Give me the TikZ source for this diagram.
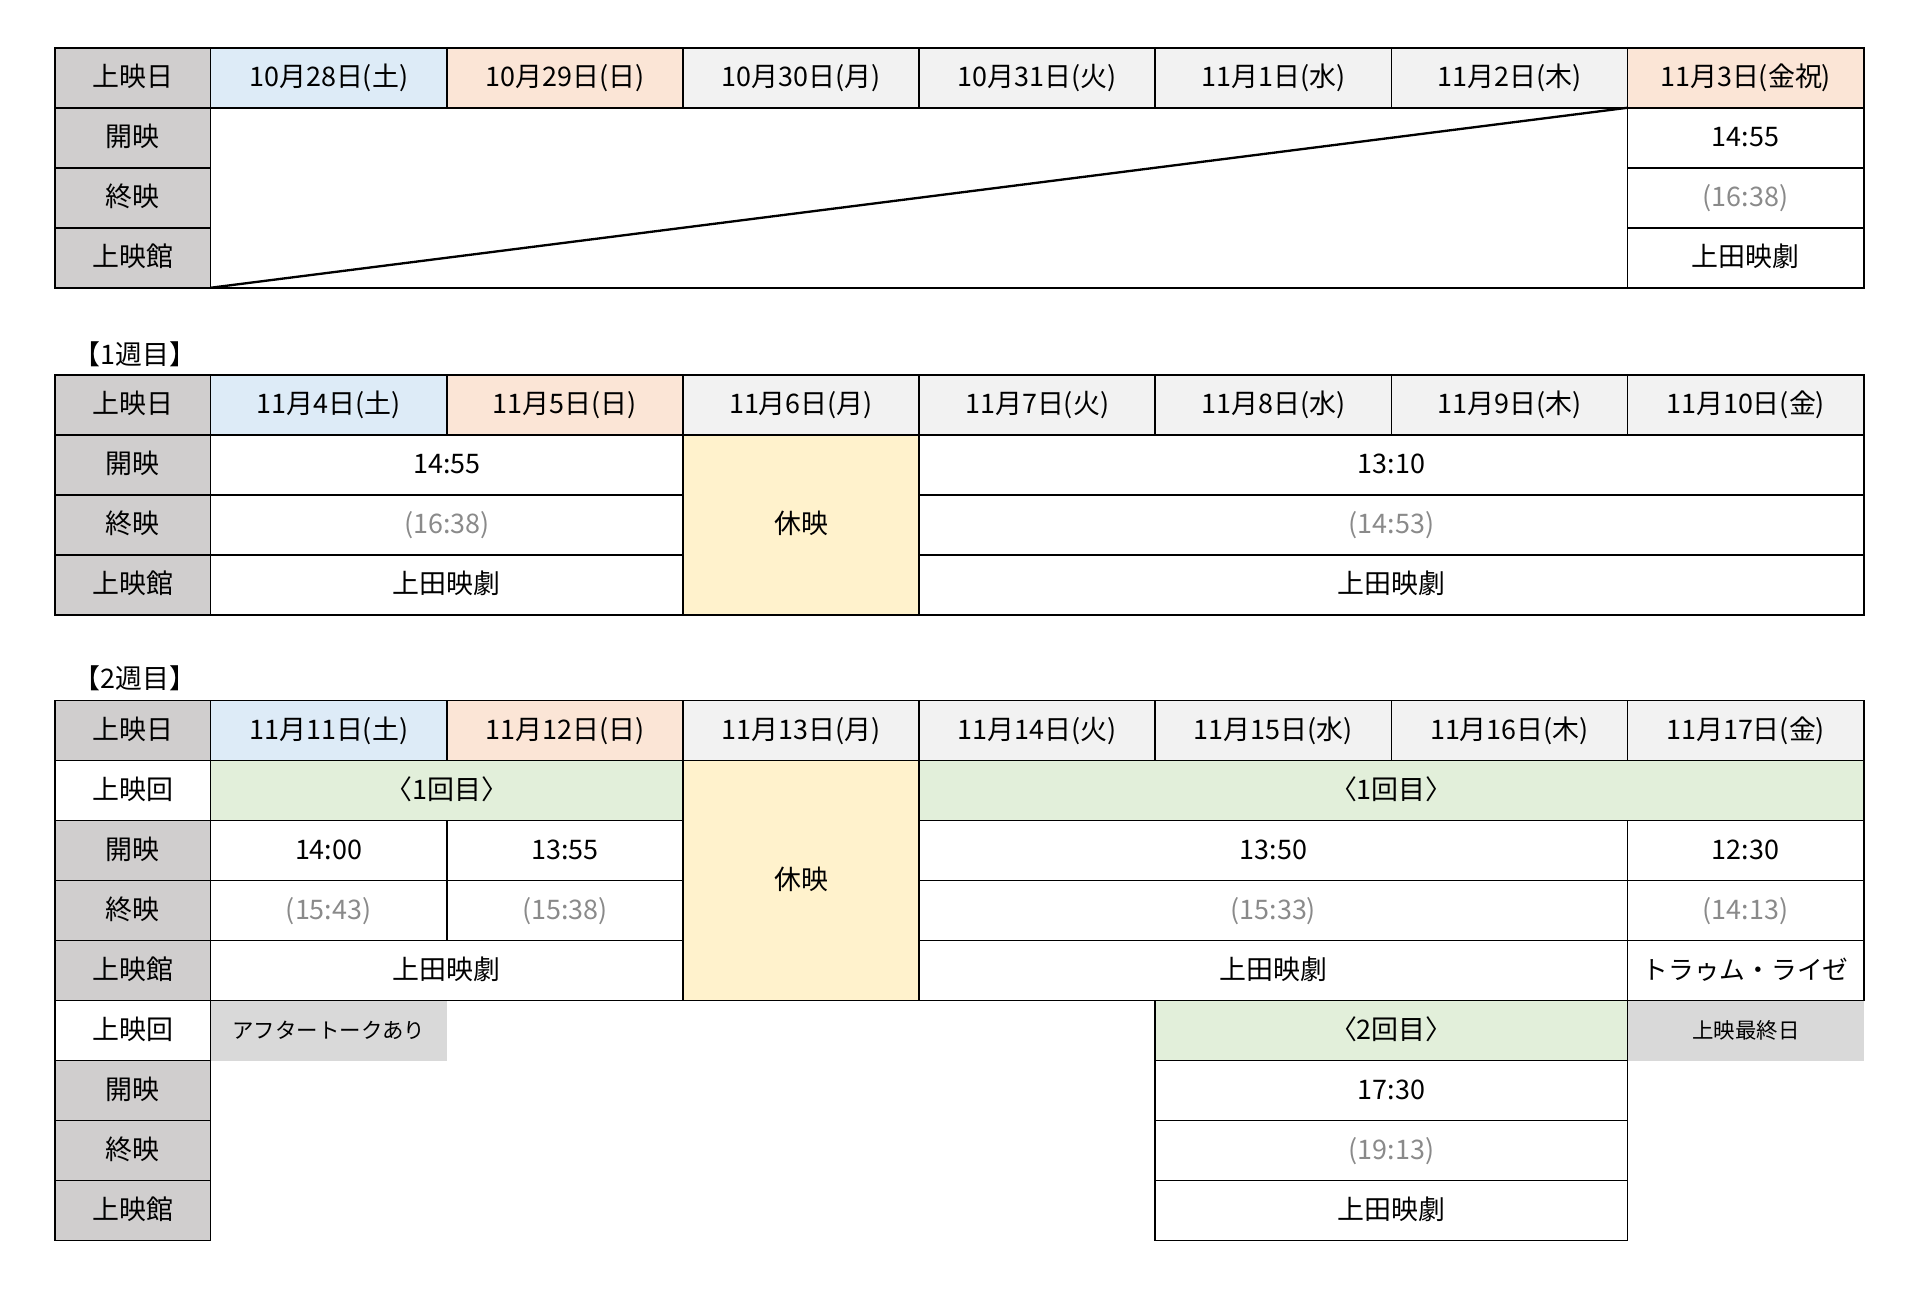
\documentclass[tikz,border=0pt]{standalone}
\usepackage{fontspec}
\setmainfont{Noto Sans CJK JP}
\usetikzlibrary{calc}
\definecolor{labgray}{HTML}{D0CECE}
\definecolor{hdr}{HTML}{F2F2F2}
\definecolor{sat}{HTML}{DDEBF7}
\definecolor{sun}{HTML}{FBE5D6}
\definecolor{rest}{HTML}{FFF2CC}
\definecolor{grn}{HTML}{E2EFDA}
\definecolor{note}{HTML}{D9D9D9}
\definecolor{endgray}{HTML}{8A8A8A}
\begin{document}
\begin{tikzpicture}[x=1pt, y=-1pt, font=\fontsize{22}{26}\selectfont,
    cell/.style={draw, line width=1.4pt, anchor=north west, inner sep=0pt, outer sep=0pt,
      minimum height=49pt, minimum width=#1, text height=18pt, text depth=3pt},
    cell/.default=192.86pt,
    lab/.style={cell=127pt, fill=labgray},
    endt/.style={text=endgray},
    notecell/.style={anchor=north west, inner sep=0pt, minimum width=192.86pt, minimum height=49pt,
      fill=note, text height=15pt, text depth=3pt, font=\fontsize{17.5}{21}\selectfont},
    week/.style={anchor=west, inner sep=0pt}]
  \useasboundingbox (0,0) rectangle (1568,1058.4);

  % 11/3 table
  \node[lab] (ah) at (45,39) {上映日};
  \foreach \d/\c [count=\i from 0] in {10月28日(土)/sat, 10月29日(日)/sun, 10月30日(月)/hdr,
      10月31日(火)/hdr, 11月1日(水)/hdr, 11月2日(木)/hdr, 11月3日(金祝)/sun}
    \node[cell, fill=\c] (ad\i) at ({172+\i*192.86},39) {\d};
  \foreach \t [count=\j] in {開映,終映,上映館}
    \node[lab] (al\j) at (45,{39+\j*49}) {\t};
  \node[cell=1157.16pt, minimum height=147pt] (ablank) at (172,88) {};
  \draw[line width=1.9pt] (ablank.south west) -- (ablank.north east);
  \node[cell] (astart) at (1329.16,88) {14:55};
  \node[cell, endt] (aend) at (1329.16,137) {(16:38)};
  \node[cell] (ahall) at (1329.16,186) {上田映劇};

  % week 1
  \node[week] (w1) at (60,289) {【1週目】};
  \node[lab] (bh) at (45,306) {上映日};
  \foreach \d/\c [count=\i from 0] in {11月4日(土)/sat, 11月5日(日)/sun, 11月6日(月)/hdr,
      11月7日(火)/hdr, 11月8日(水)/hdr, 11月9日(木)/hdr, 11月10日(金)/hdr}
    \node[cell, fill=\c] (bd\i) at ({172+\i*192.86},306) {\d};
  \foreach \t [count=\j] in {開映,終映,上映館}
    \node[lab] (bl\j) at (45,{306+\j*49}) {\t};
  \node[cell=385.72pt] (bstart) at (172,355) {14:55};
  \node[cell=385.72pt, endt] (bend) at (172,404) {(16:38)};
  \node[cell=385.72pt] (bhall) at (172,453) {上田映劇};
  \node[cell, minimum height=147pt, fill=rest] (brest) at (557.72,355) {休映};
  \node[cell=771.44pt] (bstart2) at (750.58,355) {13:10};
  \node[cell=771.44pt, endt] (bend2) at (750.58,404) {(14:53)};
  \node[cell=771.44pt] (bhall2) at (750.58,453) {上田映劇};

  % week 2
  \node[week] (w2) at (60,554) {【2週目】};
  \node[notecell] (ctalk) at (172,817) {アフタートークあり};
  \node[notecell] (clast) at (1329.16,817) {上映最終日};
  \node[lab] (ch) at (45,572) {上映日};
  \foreach \d/\c [count=\i from 0] in {11月11日(土)/sat, 11月12日(日)/sun, 11月13日(月)/hdr,
      11月14日(火)/hdr, 11月15日(水)/hdr, 11月16日(木)/hdr, 11月17日(金)/hdr}
    \node[cell, fill=\c] (cd\i) at ({172+\i*192.86},572) {\d};
  \node[cell=127pt] (cr1) at (45,621) {上映回};
  \foreach \t [count=\j] in {開映,終映,上映館}
    \node[lab] (cl\j) at (45,{621+\j*49}) {\t};
  \node[cell=127pt] (cr2) at (45,817) {上映回};
  \foreach \t [count=\j] in {開映,終映,上映館}
    \node[lab] (cm\j) at (45,{817+\j*49}) {\t};
  \node[cell=385.72pt, fill=grn] (cfirst) at (172,621) {〈1回目〉};
  \node[cell, minimum height=196pt, fill=rest] (crest) at (557.72,621) {休映};
  \node[cell=771.44pt, fill=grn] (cfirst2) at (750.58,621) {〈1回目〉};
  \node[cell] (cs1) at (172,670) {14:00};
  \node[cell] (cs2) at (364.86,670) {13:55};
  \node[cell=578.58pt] (cs3) at (750.58,670) {13:50};
  \node[cell] (cs4) at (1329.16,670) {12:30};
  \node[cell, endt] (ce1) at (172,719) {(15:43)};
  \node[cell, endt] (ce2) at (364.86,719) {(15:38)};
  \node[cell=578.58pt, endt] (ce3) at (750.58,719) {(15:33)};
  \node[cell, endt] (ce4) at (1329.16,719) {(14:13)};
  \node[cell=385.72pt] (chall1) at (172,768) {上田映劇};
  \node[cell=578.58pt] (chall2) at (750.58,768) {上田映劇};
  \node[cell, font=\fontsize{21}{25}\selectfont] (chall3) at (1329.16,768) {トラゥム・ライゼ};
  \node[cell=385.72pt, fill=grn] (csecond) at (943.44,817) {〈2回目〉};
  \node[cell=385.72pt] (cs5) at (943.44,866) {17:30};
  \node[cell=385.72pt, endt] (ce5) at (943.44,915) {(19:13)};
  \node[cell=385.72pt] (chall4) at (943.44,964) {上田映劇};
\end{tikzpicture}
\end{document}
